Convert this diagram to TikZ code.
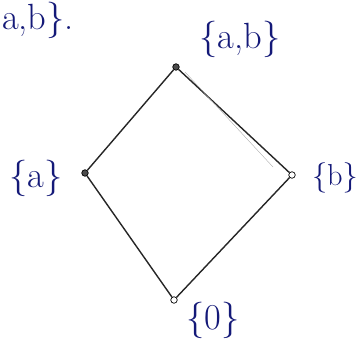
\documentclass[tikz,border=0pt]{standalone}
\usepackage{tikz}
\definecolor{inkblue}{RGB}{20,25,120}
\tikzset{
  vertex/.style  = {circle,draw,fill=black!70,inner sep=0pt,minimum size=1.3mm},
  setlabel/.style = {font=\huge,inkblue,inner sep=1pt},
  edge/.style    = {thick,black!85}
}
\begin{document}
\begin{tikzpicture}
  \useasboundingbox (0,0) rectangle (7.22,6.84);
  \node[setlabel,anchor=north west] (cut) at (0,6.84) {a,b\}.};
  \node[vertex] (ab)  at (3.52,5.50) {};
  \node[vertex] (a)   at (1.70,3.38) {};
  \node[vertex,fill=white] (b)   at (5.84,3.34) {};
  \node[vertex,fill=white] (nul) at (3.48,0.84) {};
  \draw[edge] (ab) -- (a);
  \draw[edge] (ab) -- (b);
  \draw[edge] (a) -- (nul);
  \draw[edge] (b) -- (nul);
  \draw[gray!70,very thin] (3.70,5.40) -- (5.46,3.50);
  \node[setlabel] (lab-ab)  at (4.80,6.05) {\{a,b\}};
  \node[setlabel] (lab-a)   at (0.72,3.28) {\{a\}};
  \node[setlabel,font=\LARGE,anchor=east] (lab-b) at (7.20,3.28) {\{b\}};
  \node[setlabel] (lab-nul) at (4.26,0.44) {\{0\}};
\end{tikzpicture}
\end{document}
